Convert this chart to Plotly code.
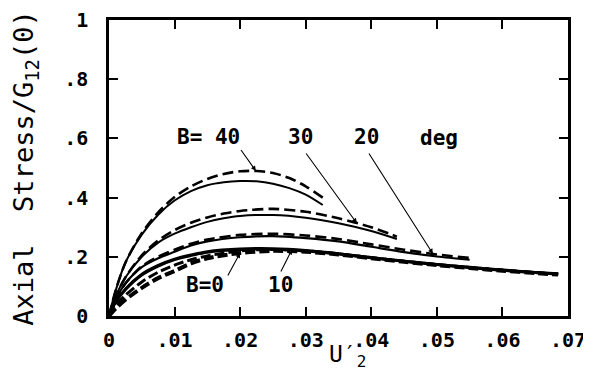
import numpy as np
import plotly.graph_objects as go

# ---- data ----
x40 = [0, 0.001, 0.0025, 0.005, 0.0075, 0.01, 0.0125, 0.015, 0.0175, 0.02, 0.0225, 0.025, 0.0275, 0.03, 0.0326]
b40_solid = [0, 0.085, 0.18, 0.275, 0.342, 0.39, 0.422, 0.442, 0.452, 0.456, 0.455, 0.447, 0.432, 0.41, 0.375]
b40_dash = [0, 0.085, 0.18, 0.28, 0.35, 0.402, 0.438, 0.463, 0.48, 0.489, 0.49, 0.483, 0.466, 0.438, 0.40]

x30 = [0, 0.001, 0.0025, 0.005, 0.0075, 0.01, 0.0125, 0.015, 0.0175, 0.02, 0.025, 0.03, 0.035, 0.04, 0.0439]
b30_solid = [0, 0.065, 0.13, 0.2, 0.248, 0.278, 0.30, 0.318, 0.33, 0.338, 0.341, 0.332, 0.313, 0.287, 0.26]
b30_dash = [0, 0.065, 0.13, 0.205, 0.255, 0.29, 0.315, 0.333, 0.346, 0.355, 0.362, 0.352, 0.33, 0.30, 0.268]

x20 = [0, 0.001, 0.0025, 0.005, 0.0075, 0.01, 0.0125, 0.015, 0.02, 0.025, 0.03, 0.035, 0.04, 0.045, 0.05, 0.055]
b20_solid = [0, 0.055, 0.11, 0.165, 0.195, 0.217, 0.238, 0.252, 0.266, 0.27, 0.263, 0.252, 0.234, 0.216, 0.201, 0.19]
b20_dash = [0, 0.055, 0.11, 0.168, 0.2, 0.224, 0.244, 0.258, 0.274, 0.278, 0.272, 0.26, 0.242, 0.224, 0.208, 0.196]

x10 = [0, 0.001, 0.0025, 0.005, 0.0075, 0.01, 0.0125, 0.015, 0.02, 0.025, 0.03, 0.035, 0.04, 0.045, 0.05, 0.055, 0.06, 0.065, 0.0685]
b10_solid = [0, 0.048, 0.092, 0.142, 0.172, 0.193, 0.207, 0.218, 0.227, 0.228, 0.222, 0.211, 0.198, 0.186, 0.175, 0.165, 0.156, 0.148, 0.143]
b10_dash = [0, 0.035, 0.07, 0.115, 0.148, 0.172, 0.19, 0.203, 0.22, 0.225, 0.22, 0.21, 0.197, 0.185, 0.174, 0.164, 0.155, 0.147, 0.142]
b0_solid = [0, 0.045, 0.088, 0.138, 0.168, 0.19, 0.204, 0.215, 0.224, 0.225, 0.219, 0.209, 0.196, 0.184, 0.173, 0.163, 0.154, 0.146, 0.141]
b0_dash = [0, 0.025, 0.055, 0.095, 0.128, 0.152, 0.178, 0.195, 0.213, 0.22, 0.217, 0.208, 0.195, 0.183, 0.172, 0.162, 0.153, 0.145, 0.14]

x_tickvals = [0, 0.01, 0.02, 0.03, 0.04, 0.05, 0.06, 0.07]
x_ticktext = ["0", ".01", ".02", ".03", ".04", ".05", ".06", ".07"]
y_tickvals = [0, 0.2, 0.4, 0.6, 0.8, 1.0]
y_ticktext = ["0", ".2", ".4", ".6", ".8", "1"]

FONT = "DejaVu Sans Mono"
BLACK = "#000000"

fig = go.Figure()

series = [
    (x40, b40_solid, "solid", 2.0), (x40, b40_dash, "11px,5px", 2.6),
    (x30, b30_solid, "solid", 2.0), (x30, b30_dash, "11px,5px", 2.6),
    (x20, b20_solid, "solid", 2.2), (x20, b20_dash, "11px,5px", 2.6),
    (x10, b10_solid, "solid", 2.6), (x10, b10_dash, "10px,4px", 3.0),
    (x10, b0_solid, "solid", 2.6), (x10, b0_dash, "10px,4px", 4.0),
]
for xs, ys, dash, w in series:
    fig.add_trace(go.Scatter(x=xs, y=ys, mode="lines",
                             line=dict(color=BLACK, width=w, dash=dash, shape="spline", smoothing=0.8),
                             showlegend=False, hoverinfo="skip"))

# pointer arrows: head on a curve (interpolated), tail near label
pointers = [
    (x40, b40_dash, 0.0224, 0.01997, 0.566),
    (x30, b30_dash, 0.0378, 0.0299, 0.554),
    (x20, b20_dash, 0.0494, 0.0395, 0.554),
    (x10, b0_dash, 0.0200, 0.0180, 0.132),
    (x10, b10_solid, 0.0279, 0.0261, 0.145),
]
for xs, ys, hx, tx, ty in pointers:
    hy = float(np.interp(hx, xs, ys))
    fig.add_annotation(x=hx, y=hy, ax=tx, ay=ty, xref="x", yref="y", axref="x", ayref="y",
                       text="", showarrow=True, arrowhead=2, arrowsize=0.9, arrowwidth=1.1,
                       arrowcolor=BLACK, standoff=0)

labels = [
    ("B= 40", 0.01524, 0.605),
    ("30", 0.0292, 0.605),
    ("20", 0.0392, 0.605),
    ("deg", 0.0503, 0.600),
    ("B=0", 0.01463, 0.105),
    ("10", 0.0261, 0.105),
]
for t, lx, ly in labels:
    fig.add_annotation(x=lx, y=ly, xref="x", yref="y", text=f"<b>{t}</b>", showarrow=False,
                       font=dict(family=FONT, size=21, color=BLACK))

# x-axis title (placed tight under the tick labels as in the reference)
fig.add_annotation(x=0.52, y=-0.135, xref="paper", yref="paper", text="U′<sub>2</sub>",
                   showarrow=False, xanchor="center", yanchor="middle",
                   font=dict(family=FONT, size=23, color=BLACK))

fig.update_xaxes(range=[0, 0.07], tickvals=x_tickvals, ticktext=[f"<b>{t}</b>" for t in x_ticktext],
                 showline=True, linecolor=BLACK, linewidth=2.5, mirror="ticks",
                 ticks="inside", ticklen=9, tickwidth=2, tickcolor=BLACK,
                 showgrid=False, zeroline=False, automargin=False, ticklabelstandoff=4,
                 tickfont=dict(family=FONT, size=20, color=BLACK))
fig.update_yaxes(range=[0, 1], tickvals=y_tickvals, ticktext=[f"<b>{t}</b>" for t in y_ticktext],
                 showline=True, linecolor=BLACK, linewidth=2.5, mirror="ticks",
                 ticks="inside", ticklen=9, tickwidth=2, tickcolor=BLACK,
                 showgrid=False, zeroline=False, ticklabelstandoff=14, automargin=False,
                 tickfont=dict(family=FONT, size=20, color=BLACK),
                 title=dict(text="Axial  Stress/G<sub>12</sub>(0)", font=dict(family=FONT, size=27, color=BLACK), standoff=23))

fig.update_layout(width=591, height=392, margin=dict(l=101, r=31, t=12, b=84),
                  plot_bgcolor="white", paper_bgcolor="white", showlegend=False)

fig.write_html("out.html")
